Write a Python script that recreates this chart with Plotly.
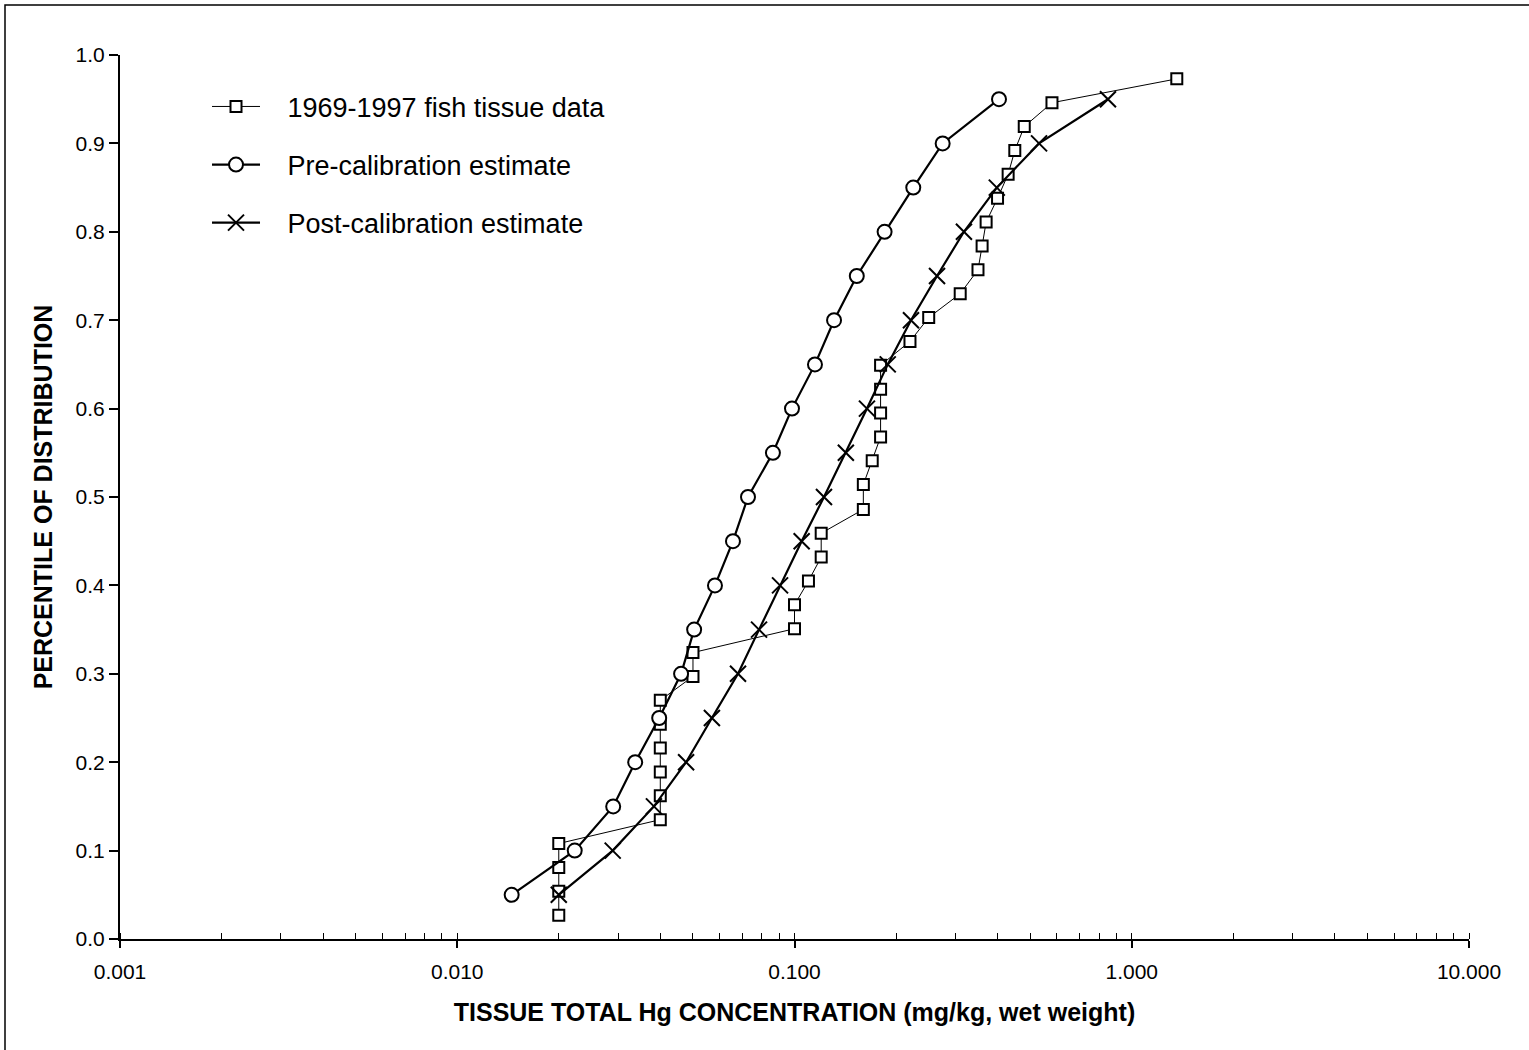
import plotly.graph_objects as go

# Observed fish tissue data (empirical percentiles i/37)
fish_x = [0.02, 0.02, 0.02, 0.02, 0.04, 0.04, 0.04, 0.04, 0.04, 0.04, 0.05, 0.05, 0.10,
          0.10, 0.11, 0.12, 0.12, 0.16, 0.16, 0.17, 0.18, 0.18, 0.18, 0.18, 0.22,
          0.25, 0.31, 0.35, 0.36, 0.37, 0.40, 0.43, 0.45, 0.48, 0.58, 1.36]
fish_y = [0.027, 0.054, 0.081, 0.108, 0.135, 0.162, 0.189, 0.216, 0.243, 0.270, 0.297, 0.324,
          0.351, 0.378, 0.405, 0.432, 0.459, 0.486, 0.514, 0.541, 0.568, 0.595, 0.622, 0.649,
          0.676, 0.703, 0.730, 0.757, 0.784, 0.811, 0.838, 0.865, 0.892, 0.919, 0.946, 0.973]

pct = [0.05, 0.10, 0.15, 0.20, 0.25, 0.30, 0.35, 0.40, 0.45, 0.50,
       0.55, 0.60, 0.65, 0.70, 0.75, 0.80, 0.85, 0.90, 0.95]
pre_x = [0.0145, 0.0223, 0.029, 0.0337, 0.0397, 0.0461, 0.0504, 0.0581, 0.0657, 0.0728,
         0.0863, 0.0983, 0.115, 0.131, 0.153, 0.185, 0.225, 0.275, 0.404]
post_x = [0.020, 0.0289, 0.0383, 0.0477, 0.0569, 0.068, 0.0785, 0.0906, 0.105, 0.1223,
          0.142, 0.164, 0.189, 0.2215, 0.2646, 0.318, 0.398, 0.531, 0.85]

names = ["1969-1997 fish tissue data", "Pre-calibration estimate", "Post-calibration estimate"]
x_ticks = [0.001, 0.01, 0.1, 1, 10]
x_tick_labels = ["0.001", "0.010", "0.100", "1.000", "10.000"]
y_ticks = [0.0, 0.1, 0.2, 0.3, 0.4, 0.5, 0.6, 0.7, 0.8, 0.9, 1.0]

FONT = "Liberation Sans, Arial, sans-serif"
PAD = "\u00a0\u00a0\u00a0"  # visual gap between legend symbol and text

fig = go.Figure()
fig.add_trace(go.Scatter(
    x=fish_x, y=fish_y, mode="lines+markers", name=PAD + names[0], legendgroup="a",
    line=dict(color="black", width=1),
    marker=dict(symbol="square", size=11, color="white", line=dict(color="black", width=2)),
))
fig.add_trace(go.Scatter(
    x=pre_x, y=pct, mode="lines+markers", name=PAD + names[1], legendgroup="b",
    line=dict(color="black", width=2.2),
    marker=dict(symbol="circle", size=14, color="white", line=dict(color="black", width=2)),
))
fig.add_trace(go.Scatter(
    x=post_x, y=pct, mode="lines+markers", name=PAD + names[2], legendgroup="c",
    line=dict(color="black", width=2.2),
    marker=dict(symbol="x-thin", size=16, color="black", line=dict(color="black", width=2)),
))

fig.update_layout(
    width=1529, height=1050,
    margin=dict(l=120, r=60, t=55, b=111),
    paper_bgcolor="white", plot_bgcolor="white",
    font=dict(family=FONT, color="black", size=21),
    showlegend=True,
    legend=dict(x=0.0645, y=0.969, xanchor="left", yanchor="top",
                font=dict(size=27, family=FONT), tracegroupgap=20,
                bgcolor="rgba(0,0,0,0)", itemwidth=48),
    xaxis=dict(
        type="log", range=[-3, 1],
        tickvals=x_ticks, ticktext=x_tick_labels,
        ticks="outside", ticklen=7, tickwidth=1.5, tickcolor="black",
        showline=True, linecolor="black", linewidth=2,
        showgrid=False, zeroline=False,
        tickfont=dict(size=21, family=FONT),
        minor=dict(ticks="inside", ticklen=6, tickwidth=1.2, tickcolor="black", dtick="D1", showgrid=False),
        title=dict(text="<b>TISSUE TOTAL Hg CONCENTRATION (mg/kg, wet weight)</b>",
                   font=dict(size=25, family=FONT), standoff=21),
        ticklabelstandoff=6,
    ),
    yaxis=dict(
        range=[0, 1], tickvals=y_ticks, tickformat=".1f",
        ticks="outside", ticklen=9, tickwidth=1.5, tickcolor="black",
        showline=True, linecolor="black", linewidth=2,
        showgrid=False, zeroline=False,
        tickfont=dict(size=21, family=FONT),
        title=dict(text="<b>PERCENTILE OF DISTRIBUTION</b>",
                   font=dict(size=25, family=FONT), standoff=16),
    ),
    shapes=[dict(type="rect", xref="paper", yref="paper",
                 x0=(5 - 120) / 1349, x1=(1540 - 120) / 1349,
                 y0=(939 - 1060) / 884, y1=(939 - 5) / 884,
                 line=dict(color="black", width=1.5), layer="below")],
)

fig.write_html("out.html", config={"displayModeBar": False},
               post_script="document.body.style.margin='0';")
